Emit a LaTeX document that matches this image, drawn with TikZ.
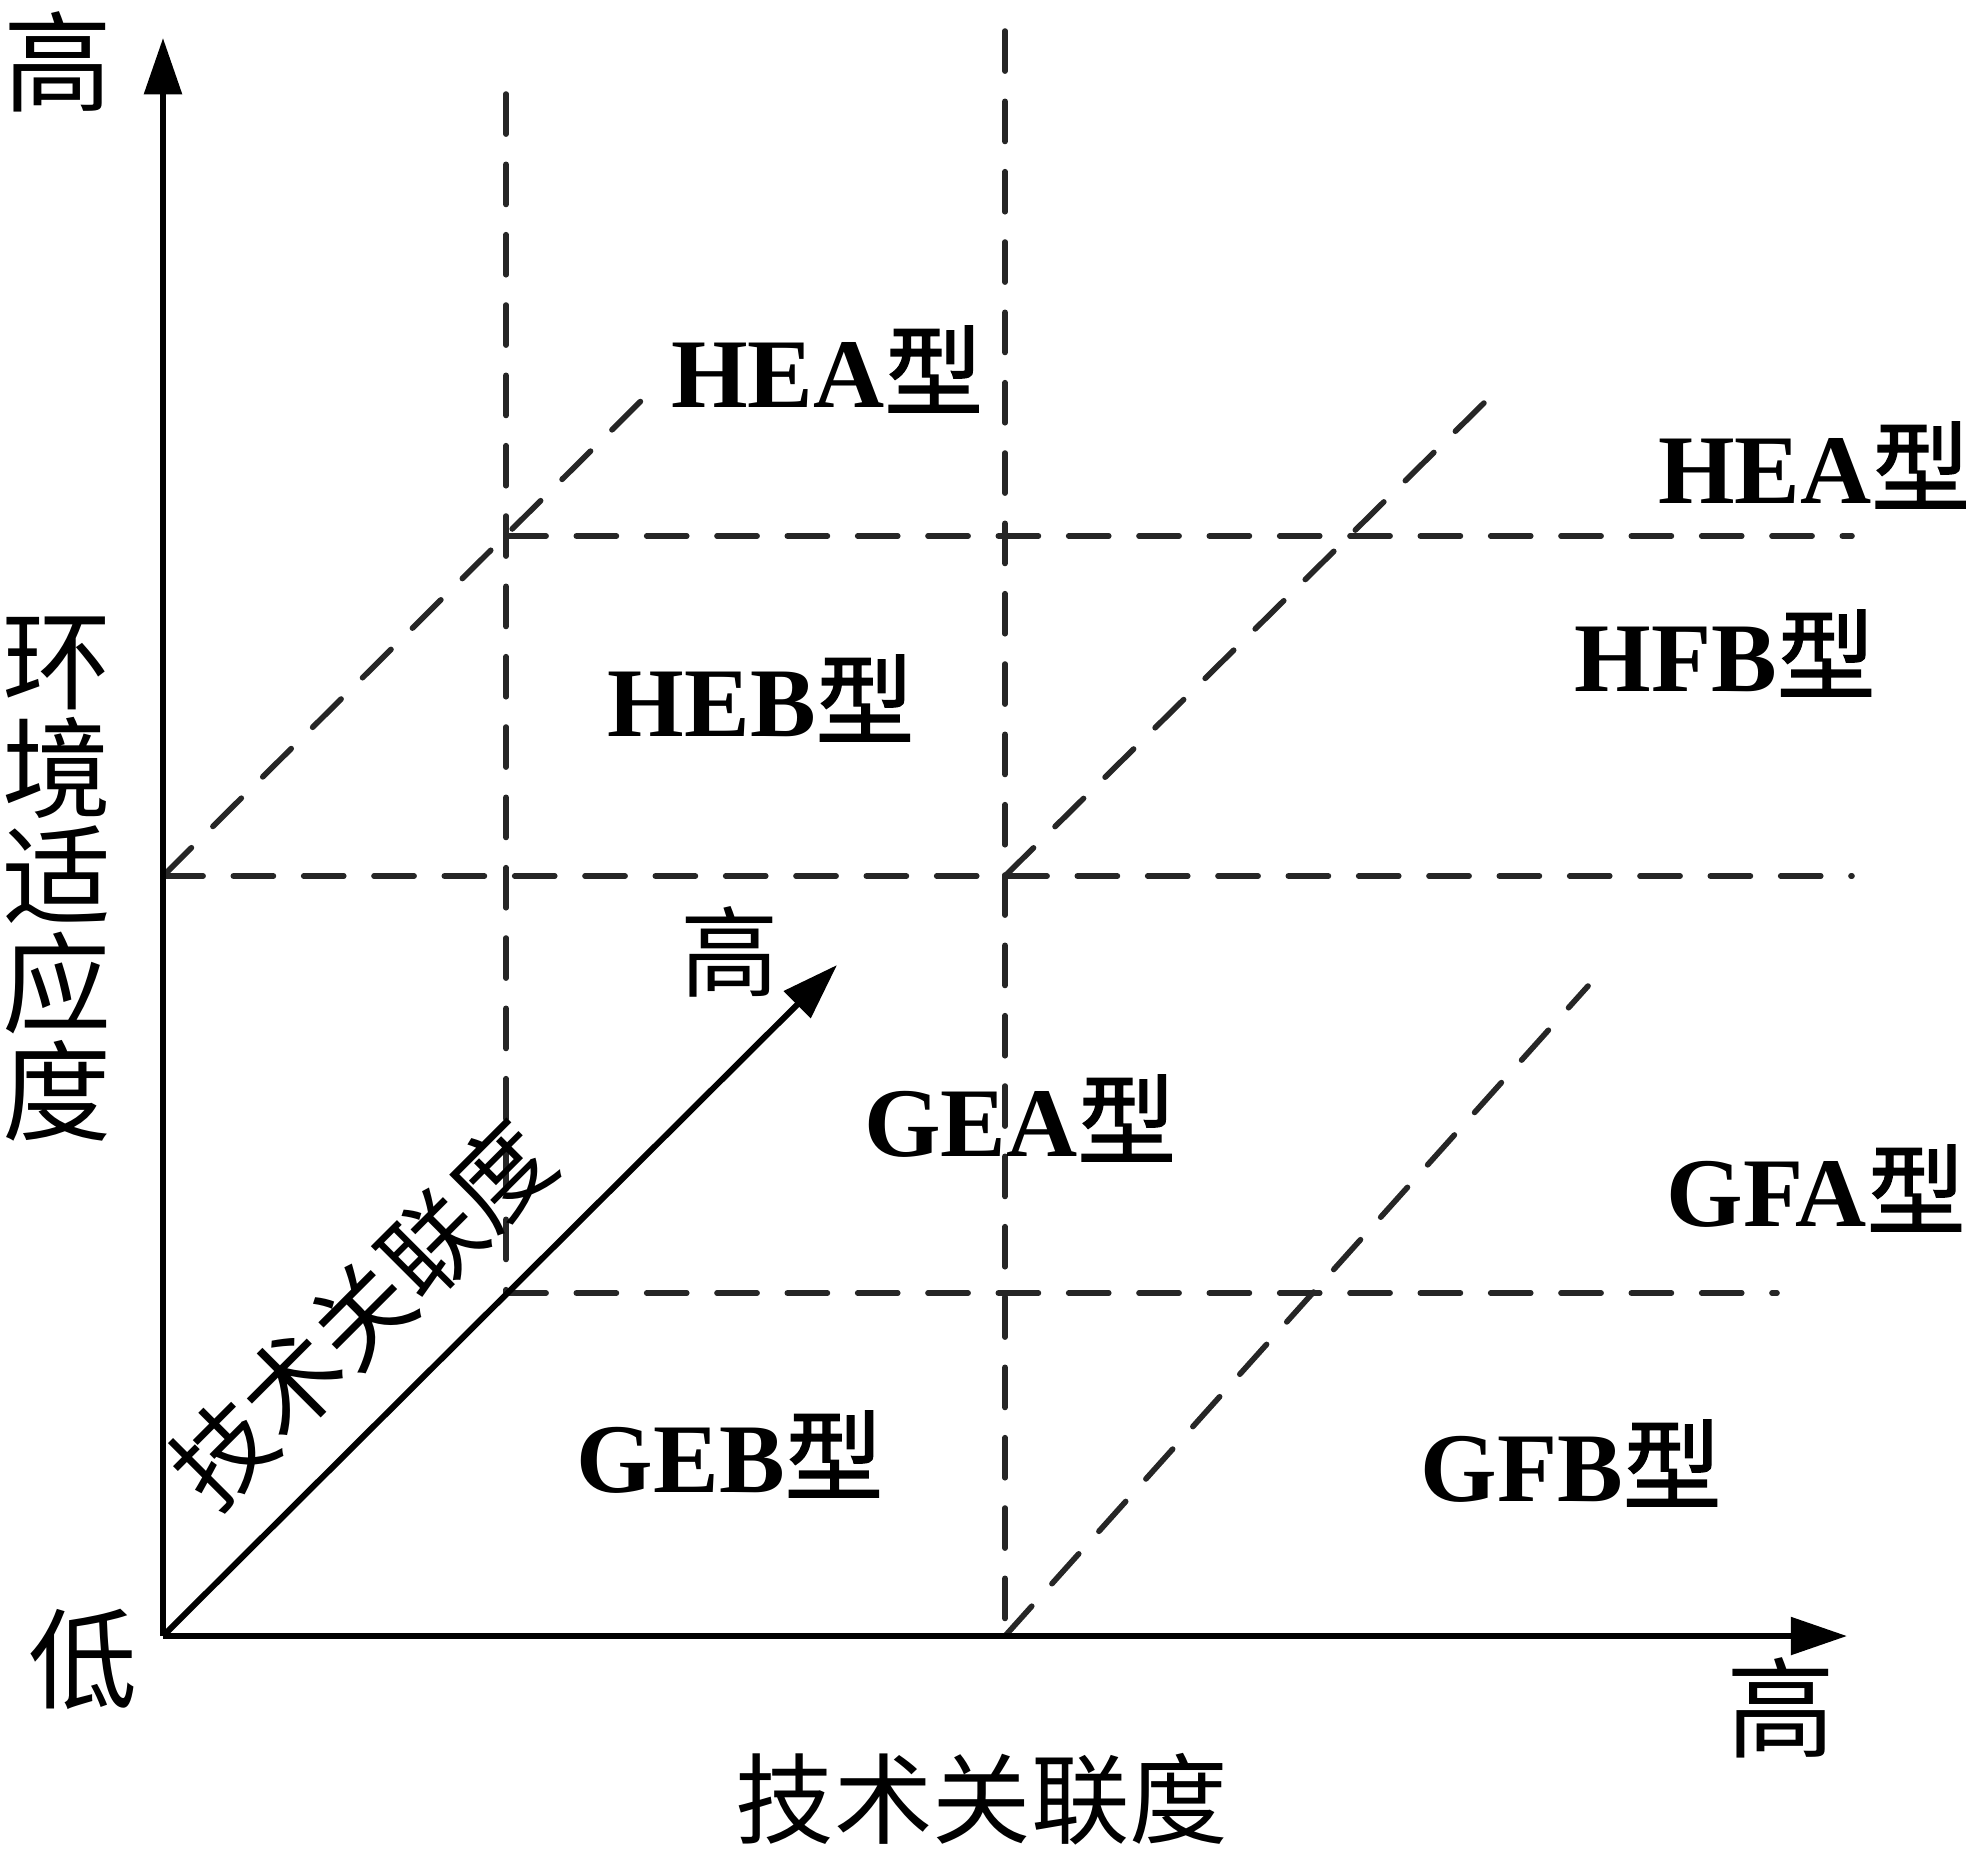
\documentclass[tikz,border=0pt]{standalone}
\usepackage{fontspec}
\setmainfont{Liberation Serif}
\newfontfamily\cjk{Noto Sans CJK SC}
\newfontfamily\cjkb[FakeBold=1.4]{Noto Sans CJK SC}
\usetikzlibrary{arrows.meta}
\begin{document}
\begin{tikzpicture}[x=0.01cm,y=-0.01cm,
  axis/.style={line width=1.7pt,-{Triangle[length=16pt,width=10.5pt]}},
  guide/.style={line width=1.6pt,color=black!85,line cap=round,dash pattern=on 11.4pt off 8.6pt},
  bigc/.style={font=\cjk\fontsize{31}{32}\selectfont,inner sep=0pt},
  midc/.style={font=\cjk\fontsize{28}{30}\selectfont,inner sep=0pt},
  typ/.style={font=\bfseries\fontsize{28}{30}\selectfont,inner sep=0pt}]
\useasboundingbox (0,0) rectangle (1969,1868);
% key points
\coordinate (O) at (163,1636);
\coordinate (ytop) at (163,38);
\coordinate (xend) at (1847,1636);
\coordinate (dend) at (837,965);
\coordinate (v1t) at (506,94);
\coordinate (v1b) at (506,1293);
\coordinate (v2t) at (1005,31);
\coordinate (v2b) at (1005,1636);
\coordinate (h1l) at (506,536);
\coordinate (h1r) at (1852,536);
\coordinate (h2l) at (163,876);
\coordinate (h2r) at (1852,876);
\coordinate (h3r) at (1777,1293);
\coordinate (d1e) at (653,389);
\coordinate (d2s) at (1005,876);
\coordinate (d2e) at (1487,400);
\coordinate (d3e) at (1588,986);
% dashed guides
\draw[guide] (v1t) -- (v1b);
\draw[guide] (v2t) -- (v2b);
\draw[guide] (h1l) -- (h1r);
\draw[guide] (h2l) -- (h2r);
\draw[guide] (v1b) -- (h3r);
\draw[guide] (h2l) -- (d1e);
\draw[guide] (d2s) -- (d2e);
\draw[guide] (v2b) -- (d3e);
% axes
\draw[axis] (O) -- (ytop);
\draw[axis] (O) -- (xend);
\draw[axis] (O) -- (dend);
% axis texts
\node[bigc] (yhigh) at (58,62) {高};
\node[bigc] (low) at (83,1659) {低};
\node[bigc] (xhigh) at (1781,1708) {高};
\node[midc] (dhigh) at (730,952) {高};
\node[font=\cjk\fontsize{31}{30.7}\selectfont,inner sep=0pt,align=center] (ylab) at (57,879) {环\\境\\适\\应\\度};
\node[midc] (xlab) at (982,1799) {技术关联度};
\node[midc,rotate=45] (dlab) at (362,1314) {技术关联度};
% type labels
\node[typ] (hea1) at (827,369) {HEA{\cjkb\mdseries 型}};
\node[typ] (hea2) at (1814,465) {HEA{\cjkb\mdseries 型}};
\node[typ] (heb) at (761,698) {HEB{\cjkb\mdseries 型}};
\node[typ] (hfb) at (1725,653) {HFB{\cjkb\mdseries 型}};
\node[typ] (gea) at (1020,1118) {GEA{\cjkb\mdseries 型}};
\node[typ] (gfa) at (1816,1188) {GFA{\cjkb\mdseries 型}};
\node[typ] (geb) at (730,1454) {GEB{\cjkb\mdseries 型}};
\node[typ] (gfb) at (1571,1463) {GFB{\cjkb\mdseries 型}};
\end{tikzpicture}
\end{document}
